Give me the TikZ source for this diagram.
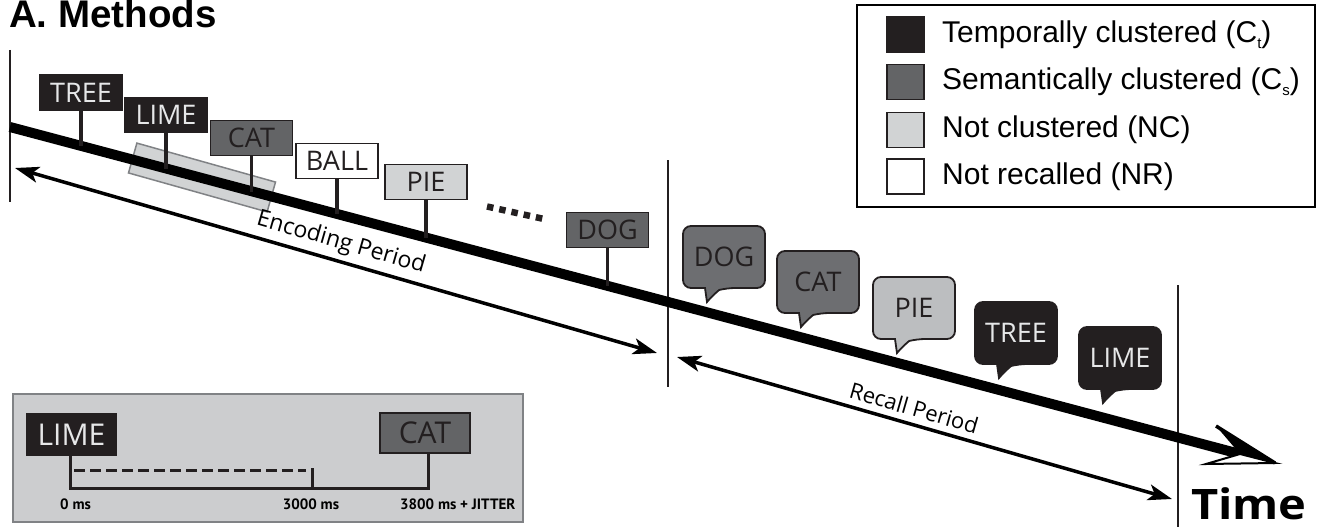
\documentclass[tikz,border=0pt]{standalone}
\usepackage{fontspec}
\setmainfont{Liberation Sans}
\newfontfamily\wordfont{Open Sans}
\newfontfamily\labfont{PT Sans}
\usetikzlibrary{arrows.meta}
\definecolor{cdark}{HTML}{231F20}
\definecolor{cmid}{HTML}{636466}
\definecolor{cmidb}{HTML}{6D6E71}
\definecolor{clight}{HTML}{D1D3D4}
\definecolor{clightb}{HTML}{BCBEC0}
\definecolor{cpale}{HTML}{E6E7E8}
\definecolor{cinset}{HTML}{CCCDCF}
\definecolor{cborder}{HTML}{808285}
\newcommand\spbub[6]{%
  \draw[bubble, fill=#4] (#2+22,#3+62) [rounded corners=8pt] -- (#2,#3+62) -- (#2,#3) -- (#2+82,#3) -- (#2+82,#3+62) -- (#2+44,#3+62) [sharp corners] .. controls (#2+36,#3+64) and (#2+29,#3+70) .. (#2+24,#3+76) -- cycle;
  \node[word, text=#5] (#1) at (#2+41,#3+31) {#6};}
\begin{document}
\begin{tikzpicture}[x=1pt,y=-1pt,
  word/.style={font=\wordfont\fontsize{27}{27}\selectfont, inner sep=0pt},
  sign/.style={word, draw=cdark, line width=1.5pt, minimum width=82pt, minimum height=35pt},
  darksign/.style={sign, fill=cdark, text=cpale},
  midsign/.style={sign, fill=cmid, text=cdark},
  lightsign/.style={sign, fill=clight, text=cdark},
  whitesign/.style={sign, fill=white, text=cdark},
  stem/.style={draw=cdark, line width=3.5pt},
  bubble/.style={draw=cdark, line width=1.8pt},
  period/.style={line width=3.5pt, {Stealth[length=24pt,width=16pt,inset=6pt]}-{Stealth[length=24pt,width=16pt,inset=6pt]}},
  divider/.style={draw=cdark, line width=1.6pt},
  swatch/.style={draw=cdark, line width=1.5pt, minimum width=37pt, minimum height=35pt, inner sep=0pt},
  legtext/.style={anchor=west, font=\fontsize{30}{30}\selectfont, inner sep=0pt},
  mslabel/.style={font=\labfont\bfseries\fontsize{15}{15}\selectfont, inner sep=0pt},
  insetword/.style={word, font=\wordfont\fontsize{30}{30}\selectfont, draw=cdark, line width=1.5pt, minimum height=40pt}
]
\useasboundingbox (0,0) rectangle (1319,527);

% title
\node[anchor=base west, font=\bfseries\fontsize{38.5}{38.5}\selectfont, inner sep=0pt] (title) at (9,28) {A. Methods};

% dividers
\coordinate (v1a) at (10,50);  \coordinate (v1b) at (10,202);
\coordinate (v2a) at (668,160); \coordinate (v2b) at (668,387);
\coordinate (v3a) at (1178,285); \coordinate (v3b) at (1178,527);
\draw[divider] (v1a) -- (v1b);
\draw[divider] (v2a) -- (v2b);
\draw[divider] (v3a) -- (v3b);

% highlight rectangle
\node[draw=cborder, fill=clight, line width=1.5pt, minimum width=144pt, minimum height=31pt, rotate=-15.7, inner sep=0pt] (hl) at (202,177.5) {};

% main time line
\coordinate (tstart) at (10,127);
\coordinate (tip) at (1275,463);
\coordinate (hup) at (1216,426);
\coordinate (hlow) at (1206,464);
\coordinate (hin) at (1240,454);
\draw[line width=10pt, black] (tstart) -- (hin);
\fill[black] (hup) -- (tip) -- (hin) -- cycle;
\draw[fill=white, draw=black, line width=2pt, line join=miter] (hin) -- (tip) -- (hlow) -- cycle;
\draw[black, line width=3.5pt] (hup) -- (tip);

% encoding signs
\node[darksign]  (tree) at (81,92.5) {TREE};
\node[darksign]  (lime) at (166,115) {LIME};
\node[midsign]   (cat)  at (251.5,138) {CAT};
\node[whitesign] (ball) at (337,161) {BALL};
\node[lightsign] (pie)  at (426,182) {PIE};
\node[midsign]   (dog)  at (607.5,230) {DOG};
\coordinate (ptree) at (81,146);
\coordinate (plime) at (166,168.5);
\coordinate (pcat)  at (251.5,191.5);
\coordinate (pball) at (337,214);
\coordinate (ppie)  at (426,237.5);
\coordinate (pdog)  at (607.5,286);
\draw[stem] (tree.south) -- (ptree);
\draw[stem] (lime.south) -- (plime);
\draw[stem] (cat.south) -- (pcat);
\draw[stem] (ball.south) -- (pball);
\draw[stem] (pie.south) -- (ppie);
\draw[stem] (dog.south) -- (pdog);

% dots
\coordinate (dotsA) at (487,206.5);
\coordinate (dotsB) at (544,219);
\draw[cdark, line width=6.5pt, dash pattern=on 6.5pt off 6pt] (dotsA) -- (dotsB);

% period arrows
\coordinate (encL) at (15,168);
\coordinate (encR) at (657,353);
\draw[period] (encL) -- (encR) node[pos=0.5, sloped, above=5pt, font=\wordfont\fontsize{23}{23}\selectfont, inner sep=0pt] (enctext) {Encoding Period};
\coordinate (recL) at (677,357);
\coordinate (recR) at (1172,499);
\draw[period] (recL) -- (recR) node[pos=0.47, sloped, above=6pt, font=\wordfont\fontsize{22}{22}\selectfont, inner sep=0pt] (rectext) {Recall Period};

% recall bubbles
\spbub{bdog}{683}{226}{cmidb}{cdark}{DOG}
\spbub{bcat}{777}{251}{cmidb}{cdark}{CAT}
\spbub{bpie}{873}{277}{clightb}{cdark}{PIE}
\spbub{btree}{975}{302}{cdark}{cpale}{TREE}
\spbub{blime}{1079}{327}{cdark}{cpale}{LIME}

% Time label
\node[anchor=base west, font=\wordfont\bfseries\fontsize{42}{42}\selectfont, inner sep=0pt, text depth=0pt] (time) at (1191,519) {\scalebox{1.12}[1]{Time}};

% legend
\node[draw=black, line width=2pt, minimum width=458pt, minimum height=202pt, inner sep=0pt] (legend) at (1086,106) {};
\node[swatch, fill=cdark] (s1) at (905.5,34.5) {};
\node[swatch, fill=cmid] (s2) at (905.5,82) {};
\node[swatch, fill=clight] (s3) at (905.5,130) {};
\node[swatch, fill=white] (s4) at (905.5,176.5) {};
\node[legtext] (l1) at (942,34.5) {Temporally clustered (C\raisebox{-6pt}{\fontsize{15}{15}\selectfont t})};
\node[legtext] (l2) at (942,82) {Semantically clustered (C\raisebox{-6pt}{\fontsize{15}{15}\selectfont s})};
\node[legtext] (l3) at (942,130) {Not clustered (NC)};
\node[legtext] (l4) at (942,176.5) {Not recalled (NR)};

% inset
\node[draw=cborder, fill=cinset, line width=2pt, minimum width=510pt, minimum height=128pt, anchor=north west, inner sep=0pt] (inset) at (12,393) {};
\node[insetword, fill=cdark, text=cpale, minimum width=89pt, minimum height=41pt] (ilime) at (71.5,434.5) {LIME};
\node[insetword, fill=cmid, text=cdark, minimum width=90pt] (icat) at (425,433) {CAT};
\coordinate (t0) at (70,488);
\coordinate (t3) at (312,488);
\coordinate (t38) at (428,488);
\draw[cdark, line width=3pt] (ilime.south -| t0) -- (t0) -- (t38) -- (icat.south -| t38);
\draw[cdark, line width=3pt] (t3) -- ++(0,-20);
\draw[cdark, line width=3pt, dash pattern=on 11pt off 5pt] ([shift={(4,-18)}]t0) -- ([shift={(-6,-18)}]t3);
\node[mslabel, anchor=base west] (ms0) at (60,509) {0 ms};
\node[mslabel, anchor=base] (ms3) at (311,509) {3000 ms};
\node[mslabel, anchor=base west] (ms38) at (400,509) {3800 ms + JITTER};
\end{tikzpicture}
\end{document}
